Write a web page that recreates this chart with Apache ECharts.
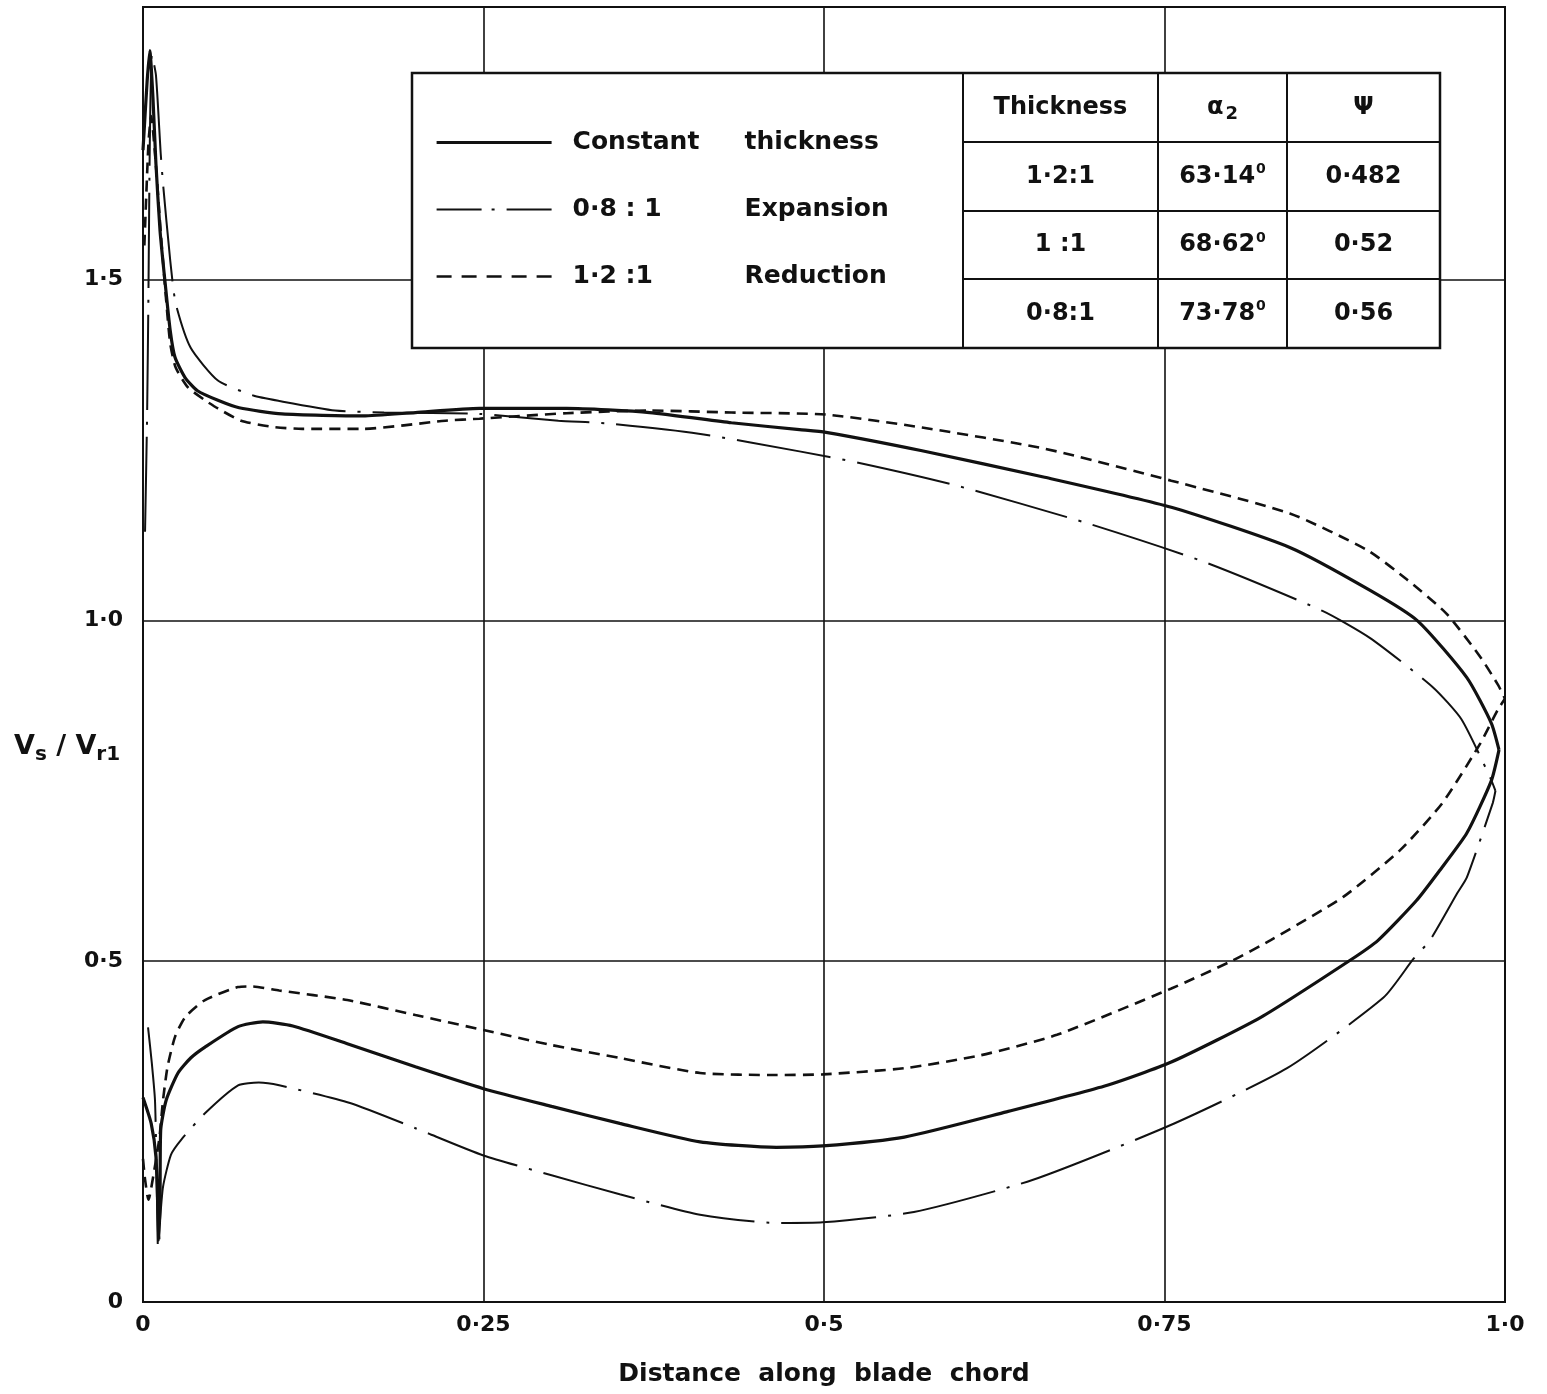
<!DOCTYPE html>
<html>
<head>
<meta charset="utf-8">
<title>Surface velocity along blade chord</title>
<script src="https://cdn.jsdelivr.net/npm/echarts@6/dist/echarts.min.js"></script>
<style>
  html, body { margin: 0; padding: 0; background: #ffffff; }
  #chart { width: 1547px; height: 1394px; }
</style>
</head>
<body>
<div id="chart"></div>
<script>
// axis ticks
const xTicks = [0, 0.25, 0.5, 0.75, 1.0];
const xTickLabels = ['0', '0·25', '0·5', '0·75', '1·0'];
const yTicks = [0, 0.5, 1.0, 1.5];
const yTickLabels = ['0', '0·5', '1·0', '1·5'];

const seriesNames = ['Constant thickness', '0·8:1 Expansion', '1·2:1 Reduction'];

// constant thickness (solid), [x, Vs/Vr1]
const constUpper = [[0, 1.69], [0.003, 1.79], [0.005, 1.836], [0.0073, 1.767], [0.0095, 1.67],
  [0.0125, 1.572], [0.016, 1.5], [0.02, 1.425], [0.0235, 1.386], [0.031, 1.356], [0.04, 1.337],
  [0.055, 1.323], [0.0706, 1.312], [0.102, 1.303], [0.1615, 1.3], [0.2, 1.305], [0.247, 1.311],
  [0.311, 1.311], [0.372, 1.305], [0.432, 1.29], [0.482, 1.28], [0.5015, 1.276], [0.572, 1.249],
  [0.662, 1.21], [0.755, 1.166], [0.842, 1.107], [0.901, 1.044], [0.936, 0.999], [0.972, 0.916],
  [0.99, 0.849], [0.9956, 0.81]];
const constLower = [[0, 0.3], [0.006, 0.262], [0.0095, 0.213], [0.011, 0.13], [0.0117, 0.091],
  [0.0125, 0.15], [0.013, 0.252], [0.017, 0.296], [0.0257, 0.336], [0.035, 0.358], [0.0455, 0.374],
  [0.0698, 0.404], [0.088, 0.411], [0.11, 0.405], [0.15, 0.379], [0.2, 0.345], [0.25, 0.313],
  [0.3, 0.287], [0.35, 0.262], [0.409, 0.235], [0.465, 0.227], [0.499, 0.229], [0.559, 0.242],
  [0.634, 0.279], [0.708, 0.318], [0.755, 0.352], [0.821, 0.418], [0.886, 0.501], [0.907, 0.531],
  [0.935, 0.589], [0.952, 0.633], [0.972, 0.688], [0.99, 0.765], [0.9956, 0.81]];

// 0.8:1 expansion (dash-dot)
const expUpper = [[0.0015, 1.13], [0.003, 1.3], [0.004, 1.48], [0.005, 1.7], [0.0065, 1.83],
  [0.0095, 1.8], [0.013, 1.685], [0.0147, 1.641], [0.02, 1.528], [0.024, 1.465], [0.035, 1.4],
  [0.055, 1.352], [0.081, 1.33], [0.1, 1.322], [0.141, 1.308], [0.177, 1.305], [0.247, 1.303],
  [0.305, 1.293], [0.341, 1.289], [0.408, 1.274], [0.482, 1.248], [0.526, 1.231], [0.595, 1.199],
  [0.691, 1.144], [0.779, 1.086], [0.866, 1.014], [0.901, 0.974], [0.947, 0.902], [0.968, 0.855],
  [0.989, 0.77], [0.993, 0.75]];
const expLower = [[0.0037, 0.403], [0.0065, 0.35], [0.0088, 0.296], [0.01, 0.19], [0.011, 0.08],
  [0.0125, 0.12], [0.0147, 0.169], [0.0205, 0.216], [0.028, 0.238], [0.0455, 0.277], [0.0698, 0.318],
  [0.085, 0.322], [0.1, 0.318], [0.152, 0.292], [0.2, 0.255], [0.25, 0.215], [0.3, 0.186],
  [0.35, 0.158], [0.409, 0.128], [0.465, 0.116], [0.499, 0.117], [0.566, 0.132], [0.653, 0.179],
  [0.755, 0.26], [0.84, 0.343], [0.911, 0.447], [0.933, 0.504], [0.945, 0.531], [0.965, 0.6],
  [0.972, 0.623], [0.991, 0.732], [0.993, 0.75]];

// 1.2:1 reduction (dashed)
const redUpper = [[0.001, 1.55], [0.004, 1.7], [0.006, 1.74], [0.009, 1.68], [0.013, 1.57],
  [0.017, 1.47], [0.02, 1.406], [0.024, 1.371], [0.033, 1.342], [0.0455, 1.323], [0.055, 1.311],
  [0.072, 1.293], [0.095, 1.284], [0.117, 1.281], [0.161, 1.281], [0.222, 1.293], [0.247, 1.296],
  [0.311, 1.304], [0.372, 1.308], [0.432, 1.305], [0.5015, 1.302], [0.572, 1.283], [0.662, 1.252],
  [0.755, 1.205], [0.842, 1.157], [0.899, 1.103], [0.928, 1.06], [0.957, 1.01], [0.982, 0.946],
  [0.995, 0.905], [1.0, 0.885]];
const redLower = [[0, 0.21], [0.0015, 0.18], [0.004, 0.15], [0.008, 0.19], [0.012, 0.24],
  [0.0147, 0.296], [0.018, 0.345], [0.0235, 0.389], [0.031, 0.418], [0.0455, 0.443], [0.0698, 0.462],
  [0.08, 0.463], [0.1, 0.457], [0.15, 0.443], [0.2, 0.421], [0.25, 0.399], [0.3, 0.377],
  [0.35, 0.358], [0.409, 0.336], [0.465, 0.333], [0.499, 0.334], [0.559, 0.343], [0.615, 0.362],
  [0.671, 0.392], [0.755, 0.46], [0.799, 0.5], [0.828, 0.531], [0.881, 0.594], [0.923, 0.663],
  [0.954, 0.732], [0.982, 0.82], [0.995, 0.87], [1.0, 0.885]];

// table beside the legend
const tableHead = ['Thickness', 'α{sub|2}', 'Ψ'];
const tableThickness = ['1·2:1', '1 :1', '0·8:1'];
const tableAlpha = ['63·14', '68·62', '73·78'];
const tablePsi = ['0·482', '0·52', '0·56'];

const FONT = '"DejaVu Sans", "Liberation Sans", sans-serif';
const INK = '#111111';

const legendLabels = {
  'Constant thickness': '{a|Constant}{b|thickness}',
  '0·8:1 Expansion': '{a|0·8 : 1}{b|Expansion}',
  '1·2:1 Reduction': '{a|1·2 :1}{b|Reduction}'
};

const lineStyles = [
  { color: INK, width: 3.2, type: 'solid' },
  { color: INK, width: 2, type: [95, 12, 3, 12] },
  { color: INK, width: 2.6, type: [11, 7] }
];
const legendLineStyles = [
  { color: INK, width: 3.2, type: 'solid' },
  { color: INK, width: 2.2, type: [45, 10, 3, 12] },
  { color: INK, width: 2.6, type: [15, 10] }
];

const makeSeries = (name, data, style) => ({
  name: name,
  type: 'line',
  data: data,
  symbol: 'none',
  smooth: 0.2,
  clip: true,
  lineStyle: style,
  itemStyle: { color: INK },
  z: 2
});

// table graphics
const boxL = 412, boxT = 73, boxR = 1440, boxB = 348;
const colX = [963, 1158, 1287, 1440];
const rowY = [73, 142, 211, 279, 348];
const graphics = [
  { type: 'rect', z: 3, shape: { x: boxL, y: boxT, width: boxR - boxL, height: boxB - boxT },
    style: { fill: '#ffffff', stroke: INK, lineWidth: 2.5 } }
];
colX.slice(0, 3).forEach(x => {
  graphics.push({ type: 'line', z: 5, shape: { x1: x, y1: boxT, x2: x, y2: boxB },
    style: { stroke: INK, lineWidth: 2 } });
});
rowY.slice(1, 4).forEach(y => {
  graphics.push({ type: 'line', z: 5, shape: { x1: colX[0], y1: y, x2: boxR, y2: y },
    style: { stroke: INK, lineWidth: 2 } });
});
const cellText = (text, col, row) => ({
  type: 'text', z: 6,
  x: (colX[col] + (col < 2 ? colX[col + 1] : boxR)) / 2,
  y: (rowY[row] + rowY[row + 1]) / 2,
  style: {
    text: text, fill: INK, font: 'bold 24px ' + FONT, align: 'center', verticalAlign: 'middle',
    rich: {
      sub: { fontSize: 18, fontWeight: 'bold', fontFamily: FONT, fill: INK, padding: [14, 0, 0, 2] },
      sup: { fontSize: 14, fontWeight: 'bold', fontFamily: FONT, fill: INK, padding: [0, 0, 14, 1] }
    }
  }
});
tableHead.forEach((t, i) => graphics.push(cellText(t, i, 0)));
tableThickness.forEach((t, i) => graphics.push(cellText(t, 0, i + 1)));
tableAlpha.forEach((t, i) => graphics.push(cellText(t + '{sup|0}', 1, i + 1)));
tablePsi.forEach((t, i) => graphics.push(cellText(t, 2, i + 1)));

// y axis title
graphics.push({
  type: 'text', z: 6, x: 14, y: 747,
  style: {
    text: 'V{sub|s} / V{sub|r1}', fill: INK, font: 'bold 27px ' + FONT, verticalAlign: 'middle',
    rich: {
      sub: { fontSize: 20, fontWeight: 'bold', fontFamily: FONT, fill: INK, padding: [16, 0, 0, 0] }
    }
  }
});

const chart = echarts.init(document.getElementById('chart'));
chart.setOption({
  backgroundColor: '#ffffff',
  animation: false,
  grid: {
    left: 143, right: 42, top: 7, bottom: 92,
    show: true, borderColor: INK, borderWidth: 2
  },
  xAxis: {
    type: 'value', min: 0, max: 1, interval: 0.25,
    name: 'Distance  along  blade  chord',
    nameLocation: 'middle', nameGap: 60,
    nameTextStyle: { color: INK, fontFamily: FONT, fontWeight: 'bold', fontSize: 25 },
    axisLine: { show: true, lineStyle: { color: INK, width: 2 } },
    axisTick: { show: false },
    splitLine: { show: true, lineStyle: { color: INK, width: 1.6 } },
    axisLabel: {
      margin: 12, color: INK, fontFamily: FONT, fontWeight: 'bold', fontSize: 22,
      formatter: v => {
        const i = xTicks.findIndex(t => Math.abs(t - v) < 1e-6);
        return i < 0 ? '' : xTickLabels[i];
      }
    }
  },
  yAxis: {
    type: 'value', min: 0, max: 1.9, interval: 0.5,
    axisLine: { show: true, lineStyle: { color: INK, width: 2 } },
    axisTick: { show: false },
    splitLine: { show: true, lineStyle: { color: INK, width: 1.6 } },
    axisLabel: {
      margin: 20, color: INK, fontFamily: FONT, fontWeight: 'bold', fontSize: 22,
      formatter: v => {
        const i = yTicks.findIndex(t => Math.abs(t - v) < 1e-6);
        return i < 0 ? '' : yTickLabels[i];
      }
    }
  },
  legend: {
    orient: 'vertical', left: 430, top: 125,
    itemWidth: 115, itemHeight: 30, itemGap: 42,
    selectedMode: false, z: 5,
    data: seriesNames.map((n, i) => ({
      name: n,
      lineStyle: legendLineStyles[i],
      itemStyle: { opacity: 0 }
    })),
    formatter: name => legendLabels[name],
    textStyle: {
      color: INK, fontFamily: FONT, fontWeight: 'bold', fontSize: 25, padding: [0, 0, 0, 16],
      rich: {
        a: { width: 172, color: INK, fontFamily: FONT, fontWeight: 'bold', fontSize: 25 },
        b: { color: INK, fontFamily: FONT, fontWeight: 'bold', fontSize: 25 }
      }
    }
  },
  graphic: graphics,
  series: [
    makeSeries(seriesNames[0], constUpper, lineStyles[0]),
    makeSeries(seriesNames[0], constLower, lineStyles[0]),
    makeSeries(seriesNames[1], expUpper, lineStyles[1]),
    makeSeries(seriesNames[1], expLower, lineStyles[1]),
    makeSeries(seriesNames[2], redUpper, lineStyles[2]),
    makeSeries(seriesNames[2], redLower, lineStyles[2])
  ]
});
</script>
</body>
</html>
